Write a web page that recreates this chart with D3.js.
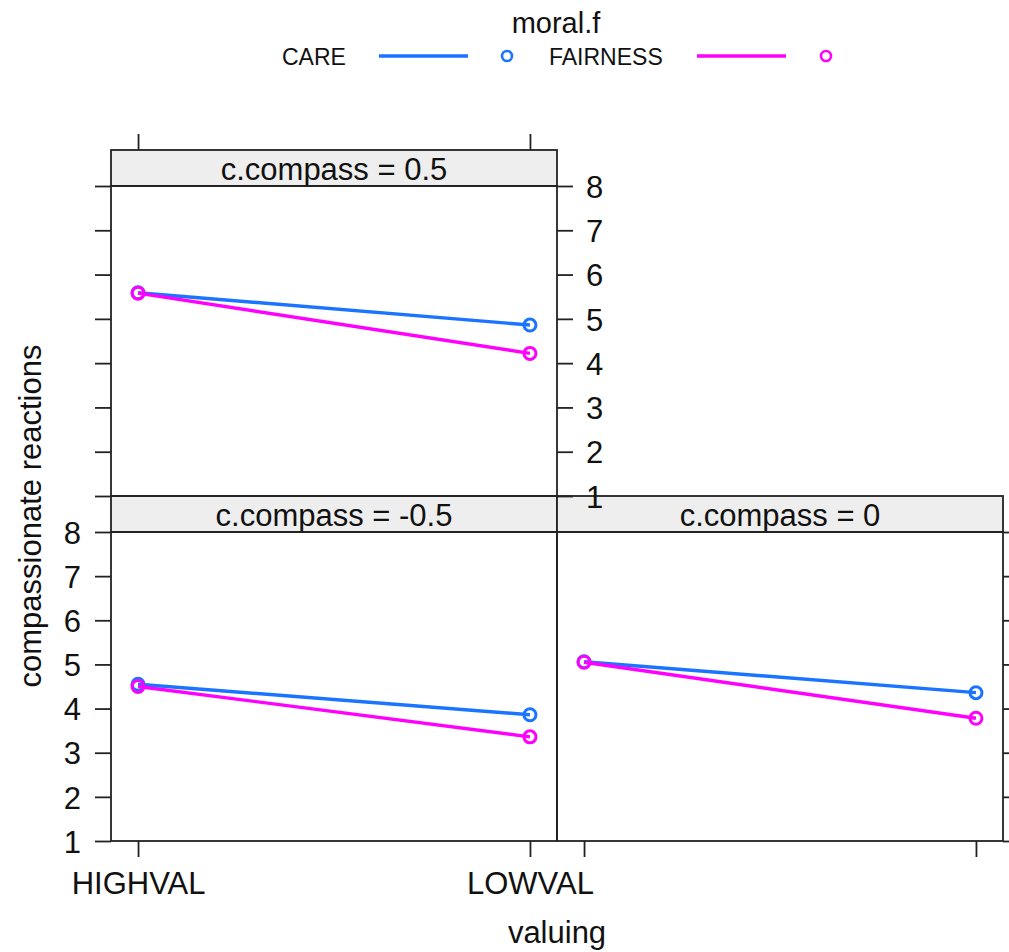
<!DOCTYPE html>
<html>
<head>
<meta charset="utf-8">
<script src="https://d3js.org/d3.v7.min.js"></script>
<style>
  body { margin: 0; background: #fff; }
  text { font-family: "Liberation Sans", Arial, sans-serif; fill: #111; }
</style>
</head>
<body>
<svg id="chart"></svg>
<script>
var levels = ["HIGHVAL", "LOWVAL"];
var groups = ["CARE", "FAIRNESS"];
var colors = ["#1a74ff", "#ff00ff"];
var panelNames = ["c.compass = -0.5", "c.compass = 0", "c.compass = 0.5"];
// one row per panel, one value per valuing level
var care = [[4.55, 3.86], [5.06, 4.36], [5.59, 4.86]];
var fairness = [[4.50, 3.36], [5.05, 3.78], [5.58, 4.22]];
var yTicks = [1, 2, 3, 4, 5, 6, 7, 8];

var W = 1009, H = 952;
var left = 111, pw = 446;
var stripH = 36;
// panel placement: col, row (row 0 = top)
var layout = [
  {col: 0, row: 1},
  {col: 1, row: 1},
  {col: 0, row: 0}
];
var rowTop = [186, 532];
var rowBottom = [496, 841];

var svg = d3.select('#chart').attr('width', W).attr('height', H);

var x = d3.scalePoint().domain(levels).range([0, pw]).padding(0.069);
var fmt = d3.format('d');

function yScale(row) {
  return d3.scaleLinear().domain([1, 8]).range([rowBottom[row], rowTop[row]]);
}

var line = function(y) {
  return d3.line()
    .x(function(d) { return x(d.level); })
    .y(function(d) { return y(d.value); });
};

var labels = svg.append('g');

panelNames.forEach(function(name, i) {
  var p = layout[i];
  var x0 = left + p.col * pw;
  var y = yScale(p.row);
  var top = rowTop[p.row], bottom = rowBottom[p.row];

  var g = svg.append('g').attr('transform', 'translate(' + x0 + ',0)');

  // strip
  g.append('rect')
    .attr('x', 0).attr('y', top - stripH)
    .attr('width', pw).attr('height', stripH)
    .attr('fill', '#eeeeee')
    .attr('stroke', '#222').attr('stroke-width', 1.8);
  g.append('text')
    .attr('x', pw / 2).attr('y', top - 6)
    .attr('text-anchor', 'middle')
    .attr('font-size', 31)
    .text(name);

  // panel box
  g.append('rect')
    .attr('x', 0).attr('y', top)
    .attr('width', pw).attr('height', bottom - top)
    .attr('fill', 'none')
    .attr('stroke', '#222').attr('stroke-width', 1.8);

  // series
  [care, fairness].forEach(function(series, s) {
    var pts = levels.map(function(lv, j) {
      return {level: lv, value: series[i][j]};
    });
    g.append('path')
      .datum(pts)
      .attr('d', line(y))
      .attr('fill', 'none')
      .attr('stroke', colors[s])
      .attr('stroke-width', 3.4);
    g.selectAll('circle.s' + s).data(pts).enter().append('circle')
      .attr('class', 's' + s)
      .attr('cx', function(d) { return x(d.level); })
      .attr('cy', function(d) { return y(d.value); })
      .attr('r', 6)
      .attr('fill', 'none')
      .attr('stroke', colors[s])
      .attr('stroke-width', 3);
  });

  // axes
  if (p.col === 0) {
    var ya = d3.axisLeft(y).tickValues(yTicks).tickSize(16).tickSizeOuter(0).tickFormat(fmt);
    if (p.row === 0) ya.tickFormat('');
    var ag = labels.append('g').attr('transform', 'translate(' + x0 + ',0)').call(ya);
    styleAxis(ag);
    ag.selectAll('text').attr('x', -30).attr('dy', '0.36em');
  }
  if (p.col === 0 && p.row === 0) {
    var ra = d3.axisRight(y).tickValues(yTicks).tickSize(16).tickSizeOuter(0).tickFormat(fmt);
    var rg = labels.append('g').attr('transform', 'translate(' + (x0 + pw) + ',0)').call(ra);
    styleAxis(rg);
    rg.selectAll('text').attr('x', 29).attr('dy', '0.36em');
    var ta = d3.axisTop(x).tickSize(16).tickSizeOuter(0).tickFormat('');
    var tg = labels.append('g').attr('transform', 'translate(' + x0 + ',' + (top - stripH) + ')').call(ta);
    styleAxis(tg);
  }
  if (p.col === 1) {
    var ra2 = d3.axisRight(y).tickValues(yTicks).tickSize(16).tickSizeOuter(0).tickFormat('');
    var rg2 = labels.append('g').attr('transform', 'translate(' + (x0 + pw) + ',0)').call(ra2);
    styleAxis(rg2);
  }
  if (p.row === 1) {
    var ba = d3.axisBottom(x).tickSize(16).tickSizeOuter(0);
    if (p.col === 1) ba.tickFormat('');
    var bg = labels.append('g').attr('transform', 'translate(' + x0 + ',' + bottom + ')').call(ba);
    styleAxis(bg);
    bg.selectAll('text').attr('y', 53).attr('dy', 0);
  }
});

svg.node().appendChild(labels.node());

function styleAxis(a) {
  a.select('.domain').remove();
  a.selectAll('line').attr('stroke', '#222').attr('stroke-width', 1.8);
  a.selectAll('text')
    .attr('font-size', 31)
    .attr('font-family', '"Liberation Sans", Arial, sans-serif')
    .attr('fill', '#111');
}

// axis titles
svg.append('text')
  .attr('x', left + pw).attr('y', 943)
  .attr('text-anchor', 'middle')
  .attr('font-size', 31)
  .text('valuing');
svg.append('text')
  .attr('transform', 'translate(41,516) rotate(-90)')
  .attr('text-anchor', 'middle')
  .attr('font-size', 31)
  .text('compassionate reactions');

// legend
svg.append('text')
  .attr('x', 556).attr('y', 33)
  .attr('text-anchor', 'middle')
  .attr('font-size', 29)
  .text('moral.f');

var legendText = [282, 549];
var legendLine = [[379, 468], [697, 786]];
var legendPoint = [507, 826];
groups.forEach(function(name, s) {
  svg.append('text')
    .attr('x', legendText[s]).attr('y', 65)
    .attr('font-size', 23)
    .text(name);
  svg.append('line')
    .attr('x1', legendLine[s][0]).attr('x2', legendLine[s][1])
    .attr('y1', 56).attr('y2', 56)
    .attr('stroke', colors[s]).attr('stroke-width', 3.4);
  svg.append('circle')
    .attr('cx', legendPoint[s]).attr('cy', 56).attr('r', 5)
    .attr('fill', 'none')
    .attr('stroke', colors[s]).attr('stroke-width', 2.6);
});
</script>
</body>
</html>
